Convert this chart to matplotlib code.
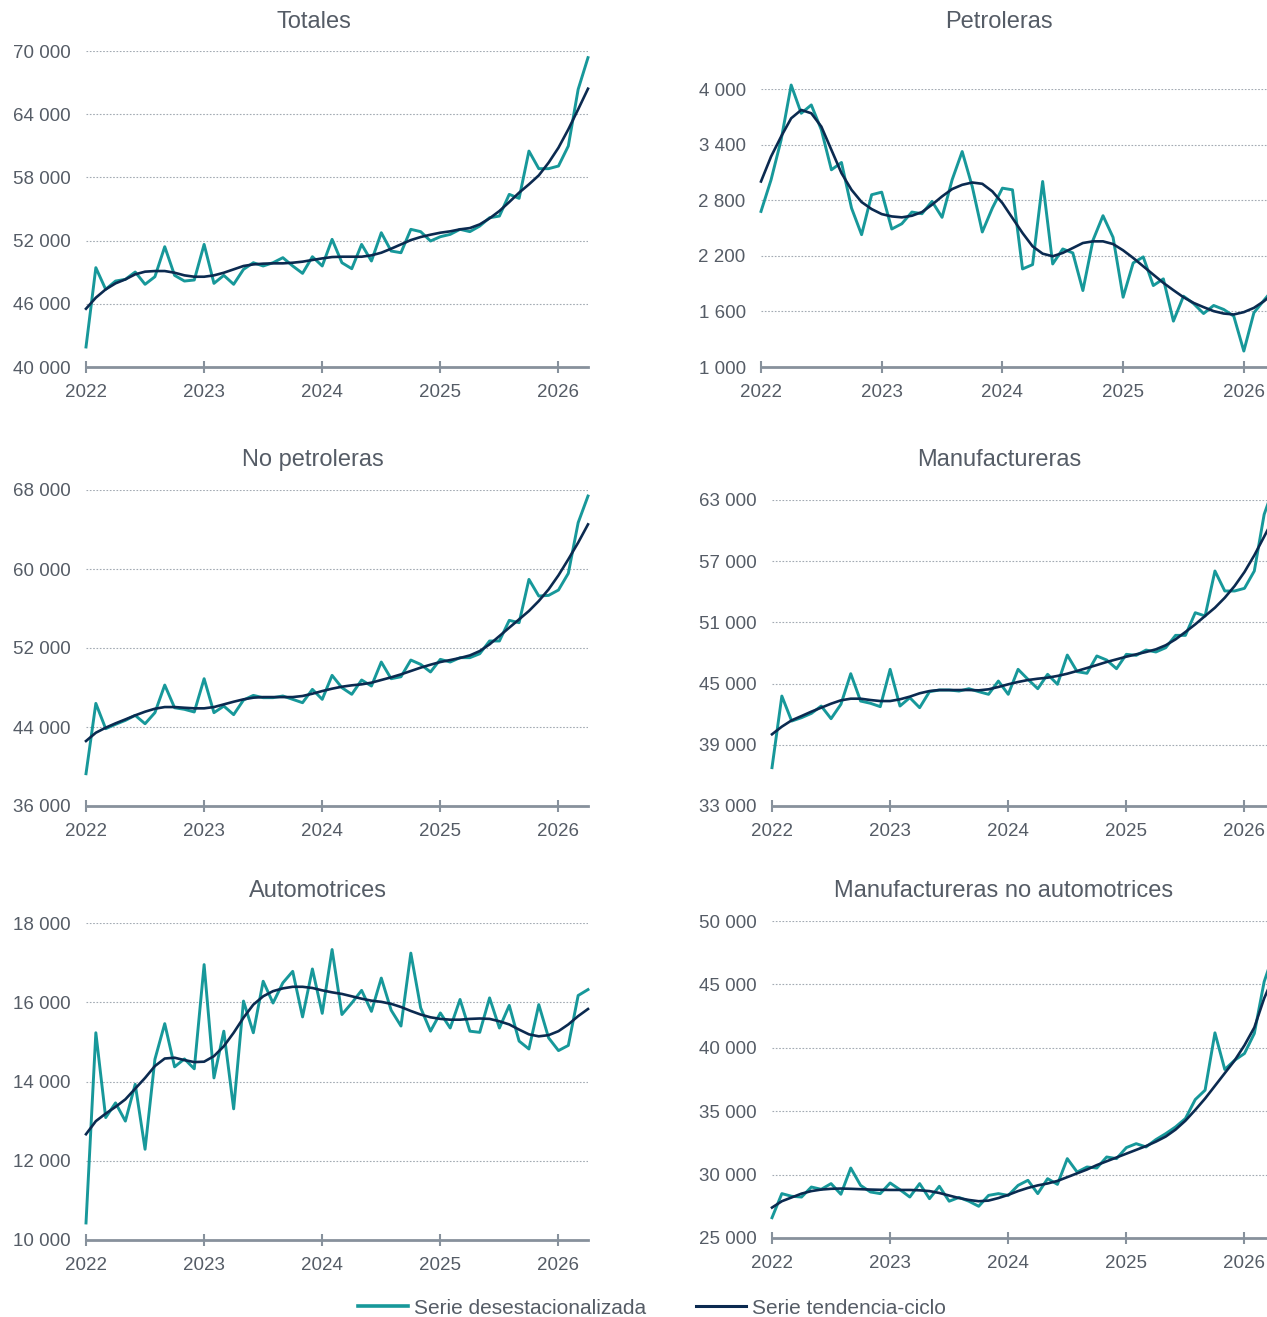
import numpy as np
import matplotlib.pyplot as plt
from matplotlib.lines import Line2D

plt.rcParams['font.family'] = ['Liberation Sans', 'DejaVu Sans']

# ============================== Data =============================== #
months = np.arange(52)          # Jan 2022 .. Apr 2026
year_ticks = [0, 12, 24, 36, 48]
year_labels = ['2022', '2023', '2024', '2025', '2026']

totales_sa = [41900, 49430, 47370, 48160, 48320, 49020, 47850, 48570, 51420, 48700,
              48160, 48260, 51640, 47940, 48700, 47850, 49270, 49900, 49590, 49900,
              50380, 49590, 48890, 50470, 49590, 52120, 49900, 49330, 51640, 50060,
              52750, 51010, 50850, 53070, 52850, 51960, 52370, 52590, 53070, 52850,
              53380, 54170, 54330, 56390, 56010, 60500, 58830, 58830, 59080, 60980,
              66360, 69370]
totales_tc = [45530, 46580, 47370, 47940, 48320, 48800, 49050, 49110, 49110, 48950,
              48700, 48570, 48570, 48700, 48950, 49270, 49590, 49740, 49810, 49840,
              49840, 49900, 50000, 50160, 50310, 50440, 50470, 50470, 50470, 50600,
              50850, 51230, 51640, 52050, 52340, 52560, 52750, 52880, 53070, 53190,
              53540, 54110, 54810, 55660, 56550, 57340, 58190, 59400, 60820, 62560,
              64460, 66420]

petro_sa = [2679, 3020, 3451, 4043, 3738, 3828, 3559, 3128, 3207, 2715,
            2428, 2859, 2887, 2489, 2546, 2672, 2654, 2787, 2615, 3020,
            3325, 2948, 2457, 2715, 2930, 2912, 2058, 2105, 3002, 2112,
            2274, 2231, 1825, 2367, 2633, 2399, 1753, 2123, 2188, 1879,
            1951, 1495, 1764, 1685, 1577, 1664, 1621, 1549, 1172, 1585,
            1720, 1850]
petro_tc = [3002, 3271, 3487, 3684, 3774, 3738, 3594, 3343, 3092, 2912,
            2780, 2704, 2650, 2625, 2615, 2632, 2672, 2751, 2841, 2920,
            2966, 2991, 2977, 2895, 2769, 2607, 2446, 2302, 2223, 2195,
            2231, 2284, 2338, 2356, 2356, 2327, 2259, 2177, 2087, 1997,
            1908, 1829, 1753, 1692, 1646, 1603, 1577, 1567, 1592, 1638,
            1710, 1800]

nopetro_sa = [39270, 46390, 43830, 44270, 44670, 45180, 44330, 45450, 48250, 45950,
              45790, 45520, 48890, 45450, 46120, 45250, 46730, 47200, 46970, 46970,
              47140, 46800, 46460, 47810, 46800, 49230, 47980, 47310, 48760, 48150,
              50580, 48890, 49090, 50780, 50340, 49570, 50850, 50580, 51020, 51020,
              51420, 52710, 52710, 54800, 54560, 58950, 57260, 57330, 57870, 59560,
              64690, 67390]
nopetro_tc = [42580, 43420, 43930, 44370, 44770, 45180, 45550, 45850, 46020, 46020,
              45950, 45890, 45890, 46020, 46290, 46560, 46800, 46970, 47030, 47030,
              47030, 47030, 47140, 47370, 47640, 47880, 48080, 48220, 48320, 48490,
              48760, 49030, 49330, 49670, 50010, 50310, 50580, 50780, 50990, 51250,
              51690, 52370, 53210, 54060, 54900, 55750, 56760, 57940, 59360, 60980,
              62670, 64520]

manuf_sa = [36760, 43780, 41330, 41660, 42080, 42800, 41560, 42970, 45970, 43290,
            43070, 42740, 46400, 42800, 43620, 42640, 44210, 44370, 44370, 44270,
            44500, 44210, 43950, 45250, 43950, 46400, 45420, 44500, 45910, 44930,
            47800, 46170, 46010, 47710, 47310, 46460, 47870, 47770, 48290, 48100,
            48520, 49730, 49730, 51950, 51630, 56040, 54080, 54080, 54340, 56040,
            61590, 64300]
manuf_tc = [40030, 40780, 41400, 41820, 42250, 42640, 43030, 43360, 43520, 43520,
            43390, 43290, 43290, 43460, 43720, 44050, 44270, 44370, 44370, 44370,
            44370, 44340, 44440, 44670, 44930, 45160, 45350, 45480, 45580, 45750,
            45970, 46240, 46530, 46820, 47120, 47380, 47640, 47870, 48100, 48360,
            48760, 49340, 50060, 50810, 51630, 52440, 53420, 54570, 55940, 57580,
            59410, 61270]

auto_sa = [10430, 15230, 13090, 13460, 13000, 13930, 12290, 14560, 15460, 14370,
           14570, 14320, 16950, 14090, 15270, 13310, 16030, 15230, 16530, 15980,
           16490, 16780, 15630, 16840, 15720, 17330, 15690, 15980, 16300, 15770,
           16610, 15800, 15400, 17240, 15860, 15270, 15730, 15350, 16070, 15270,
           15240, 16110, 15350, 15920, 15020, 14820, 15940, 15100, 14780, 14910,
           16170, 16320]
auto_tc = [12670, 13000, 13190, 13360, 13550, 13820, 14090, 14390, 14580, 14600,
           14540, 14490, 14500, 14640, 14890, 15230, 15610, 15940, 16150, 16280,
           16350, 16390, 16390, 16360, 16300, 16250, 16210, 16150, 16090, 16040,
           16010, 15960, 15880, 15780, 15690, 15620, 15580, 15560, 15560, 15580,
           15590, 15580, 15520, 15440, 15310, 15190, 15140, 15170, 15270, 15440,
           15650, 15830]

noauto_sa = [26600, 28500, 28290, 28230, 29020, 28840, 29290, 28450, 30520, 29150,
             28630, 28500, 29340, 28810, 28230, 29290, 28100, 29080, 27900, 28200,
             27900, 27500, 28360, 28500, 28360, 29150, 29550, 28500, 29680, 29230,
             31260, 30200, 30600, 30520, 31390, 31260, 32130, 32440, 32180, 32760,
             33230, 33760, 34420, 35920, 36660, 41180, 38290, 39020, 39550, 41130,
             45210, 47500]
noauto_tc = [27400, 27900, 28200, 28500, 28700, 28820, 28880, 28900, 28880, 28850,
             28820, 28800, 28790, 28790, 28790, 28760, 28700, 28550, 28350, 28150,
             28000, 27900, 27950, 28150, 28400, 28700, 28950, 29150, 29300, 29500,
             29800, 30100, 30400, 30750, 31050, 31350, 31650, 31950, 32250, 32600,
             33000, 33550, 34250, 35100, 36000, 37000, 38000, 39000, 40200, 41600,
             43900, 45700]
# ==================================================================== #

teal = '#17989A'
navy = '#0B2A50'
text_c = '#555C66'
W, H = 1267, 1317

fig = plt.figure(figsize=(W / 100, H / 100), dpi=100)

# (title, sa, tc, yticks, left px, x of index 51 px, top px, bottom px, title x, title y)
panels = [
    ('Totales', totales_sa, totales_tc, np.arange(40000, 70001, 6000), 86, 588, 51, 367, 314, 22),
    ('Petroleras', petro_sa, petro_tc, np.arange(1000, 4001, 600), 761, 1274, 89, 367, 999, 22),
    ('No petroleras', nopetro_sa, nopetro_tc, np.arange(36000, 68001, 8000), 86, 588, 490, 806, 313, 460),
    ('Manufactureras', manuf_sa, manuf_tc, np.arange(33000, 63001, 6000), 772, 1274, 500, 806, 999, 460),
    ('Automotrices', auto_sa, auto_tc, np.arange(10000, 18001, 2000), 86, 588, 923, 1240, 318, 891),
    ('Manufactureras no automotrices', noauto_sa, noauto_tc, np.arange(25000, 50001, 5000), 772, 1274, 921, 1238, 1004, 891),
]

for title, sa, tc, yt, x0, x1, y0, y1, tx, ty in panels:
    ax = fig.add_axes([x0 / W, 1 - y1 / H, (x1 - x0) / W, (y1 - y0) / H])
    ax.plot(months, sa, color=teal, lw=2.1, zorder=3, clip_on=False)
    ax.plot(months, tc, color=navy, lw=1.9, zorder=4, clip_on=False)
    ax.set_xlim(0, 51)
    ax.set_ylim(yt[0], yt[-1])
    ax.set_yticks(yt)
    ax.set_yticklabels([f'{v:,.0f}'.replace(',', ' ') for v in yt])
    ax.set_xticks(year_ticks)
    ax.set_xticklabels(year_labels)
    for v in yt[1:]:
        ax.axhline(v, color='#A3AAB3', lw=0.8, ls=(0, (1.5, 1.5)), zorder=1)
    for s in ['top', 'right', 'left']:
        ax.spines[s].set_visible(False)
    ax.spines['bottom'].set_color('#87919C')
    ax.spines['bottom'].set_linewidth(2)
    ax.tick_params(axis='y', length=0, pad=11, labelsize=13.5, labelcolor=text_c)
    ax.tick_params(axis='x', direction='inout', length=9, width=1.5, color='#87919C',
                   pad=7.5, labelsize=13.5, labelcolor=text_c)
    ax.patch.set_alpha(0)
    fig.text(tx / W, 1 - ty / H, title, ha='center', va='center', fontsize=17, color=text_c)

handles = [Line2D([], [], color=teal, lw=2.6), Line2D([], [], color=navy, lw=2.2)]
fig.legend(handles, ['Serie desestacionalizada', 'Serie tendencia-ciclo'],
           loc='center', bbox_to_anchor=(652 / W, 1 - 1308 / H), ncol=2, frameon=False,
           fontsize=15, labelcolor=text_c, handlelength=2.4, handletextpad=0.3,
           columnspacing=2.4)

fig.savefig('out.png', dpi=100)
